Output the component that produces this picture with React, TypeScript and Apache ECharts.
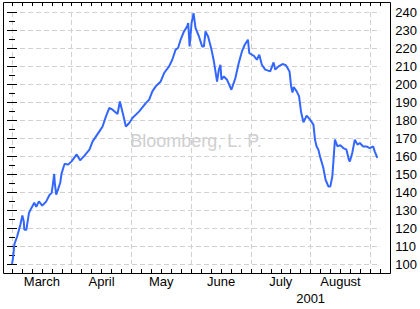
import React, { useEffect, useRef } from "react";
import * as echarts from "echarts";

// x position in "days" (each month spans 30 units, starting March 1 = 0)
const days = [
  0, 0.5, 1.2, 2.5, 3.5, 4.2, 5.2, 5.9, 6.2, 7.2, 8.5, 9.5, 11.2, 12.2, 13.5, 15.2, 17.2, 18.9, 19.9,
  20.5, 21.2, 21.5, 22.2, 23.2, 24.2, 24.9, 25.9, 26.5, 28.2, 29.9, 32.5, 34.2, 36.4, 38.9, 40.5,
  42.2, 43.9, 45.5, 47.2, 48.9, 50.5, 53, 54.2, 55.5, 57.2, 58.9, 60.5, 63.9, 67.2, 68.9, 70.5, 72.2,
  74.7, 76.4, 78.9, 80.5, 82.2, 83.4, 84.7, 86.4, 88, 88.5, 89.2, 90.2, 91.2, 92.2, 93.9, 95.5, 96.4,
  97.2, 98.5, 100.2, 101.4, 103, 103.9, 104.7, 105.2, 106.4, 108, 110.2, 112.2, 113.9, 115.5, 116.9,
  118.5, 119.2, 121.4, 123, 124.2, 125.5, 127.2, 129.7, 131.4, 132.2, 133.9, 135.9, 137.5, 139.4,
  140.2, 140.9, 141.5, 143, 144.2, 145.2, 146.4, 148, 149.7, 151.4, 152.2, 153, 153.9, 154.7, 156.4,
  157.5, 158.9, 159.9, 160.9, 161.5, 162.2, 163.5, 164.9, 166.4, 168, 169.2, 169.7, 170.9, 172.2,
  173.5, 174.7, 176.4, 178, 179.7, 181.4, 182.2, 183.5,
];
const prices = [
  100, 103.3, 111, 115, 119, 121.8, 127, 123.7, 119, 119, 128.3, 130.6, 134, 131.7, 134.8, 132.4,
  134.8, 138.5, 139.4, 144, 150, 145, 138.5, 141.7, 145, 150.2, 153.9, 155.7, 155.2, 157, 160.9,
  157.6, 160.2, 163.5, 168.1, 170.9, 173.7, 176.4, 182, 186.7, 185.7, 183.3, 190.3, 184.4, 176.4,
  178.3, 181.1, 184.8, 189.4, 191.3, 195.9, 198.7, 201.4, 206.1, 209.8, 213.5, 219.1, 220, 224.6,
  229.2, 232, 233.9, 220.9, 233.9, 239.4, 231.1, 226.4, 220.9, 220.9, 229.2, 226.4, 219.1, 212.6,
  201.4, 208, 210.7, 202.4, 204.2, 202.4, 196.8, 203.3, 211.7, 218.1, 221.8, 224.6, 217.2, 215.7,
  213.5, 216.3, 210.7, 208, 207, 212, 208, 209.8, 211.1, 210.5, 207, 198.7, 195.3, 198.3, 195.9,
  193.1, 184.4, 178.7, 182.4, 180.2, 177.4, 169.1, 165.3, 163.5, 159.8, 153.3, 146.8, 143.1, 143.1,
  148.7, 157.9, 169.1, 165.3, 166, 164.4, 163.5, 157.9, 157, 161.7, 169.1, 166.3, 167.2, 165.3,
  165.3, 164.4, 165.3, 162.6, 158.9,
];
const months = ["March", "April", "May", "June", "July", "August"];
const yearLabel = "2001";
const yTicks = { min: 100, max: 240, step: 10 };

const FONT = "'Liberation Sans', Arial, sans-serif";

export default function App() {
  const ref = useRef<HTMLDivElement>(null);
  useEffect(() => {
    if (!ref.current) return;
    const chart = echarts.init(ref.current, undefined, { renderer: "svg" });
    const xBase = { type: "value", min: 0, max: 185, gridIndex: 0 } as any;
    chart.setOption({
      animation: false,
      backgroundColor: "#ffffff",
      grid: { left: 12, right: 38, top: 12, bottom: 45 },
      xAxis: [
        {
          ...xBase,
          position: "bottom",
          offset: 9,
          interval: 5,
          axisLine: { show: false },
          axisTick: { show: true, inside: true, length: 4, lineStyle: { color: "#000" } },
          axisLabel: { show: false },
          splitLine: { show: false },
        },
        {
          ...xBase,
          position: "top",
          offset: 10,
          interval: 5,
          axisLine: { show: false },
          axisTick: { show: true, inside: true, length: 4, lineStyle: { color: "#000" } },
          axisLabel: { show: false },
          splitLine: { show: false },
        },
        {
          ...xBase,
          position: "bottom",
          interval: 30,
          axisLine: { show: false },
          axisTick: { show: false },
          axisLabel: { show: false },
          splitLine: {
            show: true,
            showMinLine: true,
            showMaxLine: false,
            lineStyle: { color: "#d0d0d0", type: [5, 3], width: 1 },
          },
        },
        {
          ...xBase,
          position: "bottom",
          offset: 9,
          interval: 15,
          axisLine: { show: false },
          axisTick: { show: false },
          splitLine: { show: false },
          axisLabel: {
            show: true,
            margin: 0,
            fontFamily: FONT,
            fontSize: 13,
            lineHeight: 17,
            color: "#000",
            verticalAlign: "top",
            showMinLabel: true,
            showMaxLabel: true,
            formatter: (v: number) => {
              if (Math.abs(v - 150) < 0.01) return "\n" + yearLabel;
              if (Math.abs(((v - 15) % 30)) < 0.01) {
                const i = Math.round((v - 15) / 30);
                return months[i] ?? "";
              }
              return "";
            },
          },
        },
      ],
      yAxis: [
        {
          type: "value",
          position: "right",
          offset: 8,
          min: yTicks.min,
          max: yTicks.max,
          interval: yTicks.step,
          axisLine: { show: false },
          axisTick: { show: true, inside: true, length: 5, lineStyle: { color: "#000" } },
          minorTick: { show: true, splitNumber: 2, length: 3, lineStyle: { color: "#000" } },
          axisLabel: { show: true, margin: 7, fontFamily: FONT, fontSize: 13, color: "#000" },
          splitLine: { show: true, lineStyle: { color: "#d0d0d0", type: [5, 3], width: 1 } },
        },
        {
          type: "value",
          position: "left",
          offset: 9,
          min: yTicks.min,
          max: yTicks.max,
          interval: yTicks.step,
          axisLine: { show: false },
          axisTick: { show: true, inside: true, length: 5, lineStyle: { color: "#000" } },
          minorTick: { show: true, splitNumber: 2, length: 3, lineStyle: { color: "#000" } },
          axisLabel: { show: false },
          splitLine: { show: false },
        },
      ],
      graphic: [
        {
          type: "rect",
          z: 10,
          silent: true,
          shape: { x: 3.5, y: 2.5, width: 387, height: 271 },
          style: { fill: "none", stroke: "#000", lineWidth: 1 },
        },
        {
          type: "text",
          z: 1,
          silent: true,
          x: 196,
          y: 141,
          style: {
            text: "Bloomberg, L. P.",
            fill: "#cfcfcf",
            font: `18px ${FONT}`,
            align: "center",
            verticalAlign: "middle",
          },
        },
      ],
      series: [
        {
          type: "line",
          xAxisIndex: 0,
          yAxisIndex: 0,
          clip: false,
          symbol: "none",
          lineStyle: { color: "#3366ff", width: 2 },
          data: days.map((d, i) => [d, prices[i]]),
        },
      ],
    });
    return () => chart.dispose();
  }, []);
  return (
    <div
      ref={ref}
      style={{ position: "fixed", left: 0, top: 0, width: 420, height: 309, background: "#fff" }}
    />
  );
}
